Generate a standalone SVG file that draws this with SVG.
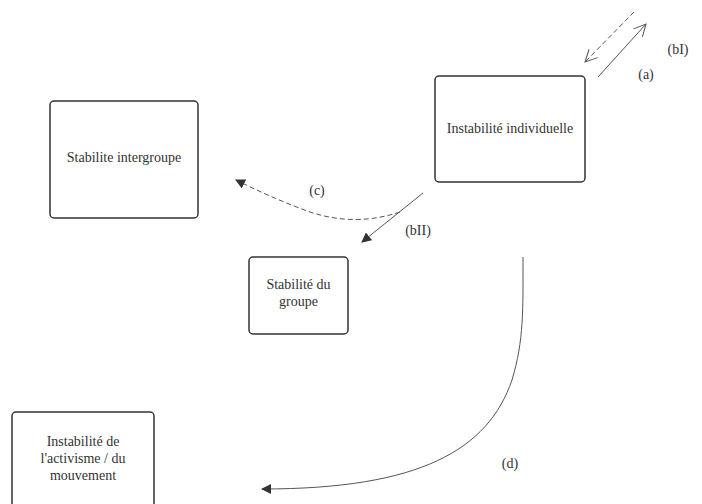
<svg xmlns="http://www.w3.org/2000/svg" width="702" height="504" viewBox="0 0 702 504">
<style>
.box{fill:#fff;stroke:#333;stroke-width:1.5}
.t{font-family:"Liberation Serif",serif;font-size:14px;fill:#333;text-anchor:middle}
.c{fill:none;stroke:#555;stroke-width:1}
.d{stroke-dasharray:5 3}
</style>
<defs>
<marker id="fa" viewBox="0 0 10 10" refX="9" refY="5" markerWidth="10" markerHeight="10" markerUnits="userSpaceOnUse" orient="auto"><path d="M0,0 L10,5 L0,10 Z" fill="#333"/></marker>
<marker id="oa" viewBox="0 0 14 14" refX="13" refY="7" markerWidth="14" markerHeight="14" markerUnits="userSpaceOnUse" orient="auto"><path d="M1,1 L13,7 L1,13" fill="none" stroke="#555" stroke-width="1"/></marker>
</defs>
<rect width="702" height="504" fill="#fff"/>
<g id="connectors">
<path class="c" d="M598,77 L646,24" marker-end="url(#oa)"/>
<path class="c d" d="M634,12 L585,62" marker-end="url(#oa)"/>
<path class="c d" d="M400,212 C370,222 340,222 310,212 C285,203 260,192 236,180" marker-end="url(#fa)"/>
<path class="c" d="M423,193 L362,242" marker-end="url(#fa)"/>
<path class="c" d="M523,257 C523,310 524,340 512,380 C488,450 420,489 262,489" marker-end="url(#fa)"/>
</g>
<g id="labels">
<text class="t" x="678" y="54">(bI)</text>
<text class="t" x="646" y="79">(a)</text>
<text class="t" x="317" y="195">(c)</text>
<text class="t" x="418" y="235">(bII)</text>
<text class="t" x="510" y="468">(d)</text>
</g>
<g id="n1"><rect class="box" x="435" y="76" width="150" height="106" rx="4"/><text class="t" x="510" y="133">Instabilité individuelle</text></g>
<g id="n2"><rect class="box" x="50" y="101" width="148" height="117" rx="4"/><text class="t" x="124" y="162">Stabilite intergroupe</text></g>
<g id="n3"><rect class="box" x="249" y="257" width="99" height="77" rx="4"/><text class="t" x="298.500" y="289">Stabilité du</text><text class="t" x="298.500" y="306">groupe</text></g>
<g id="n4"><rect class="box" x="12" y="412" width="142" height="100" rx="4"/><text class="t" x="83" y="446">Instabilité de</text><text class="t" x="83" y="463">l'activisme / du</text><text class="t" x="83" y="480">mouvement</text></g>
</svg>
